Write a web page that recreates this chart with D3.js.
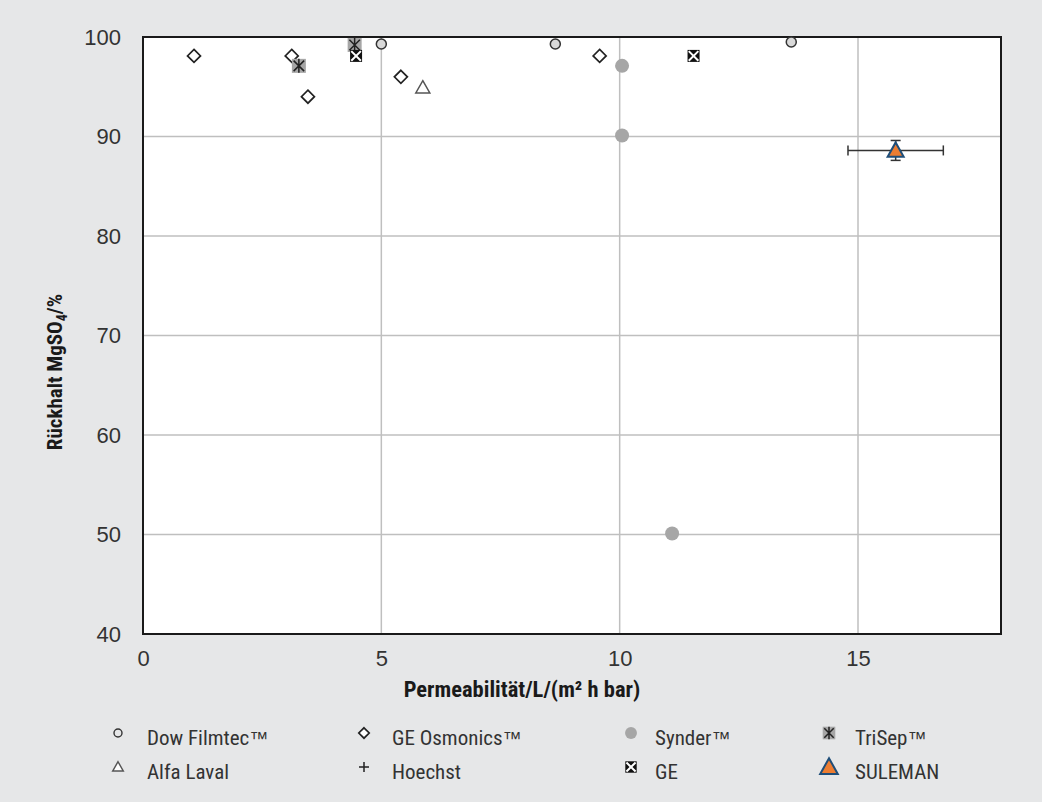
<!DOCTYPE html>
<html><head><meta charset="utf-8">
<script src="https://cdn.jsdelivr.net/npm/d3@7"></script>
<style>
body{margin:0;background:#e6e7e8;}
svg{display:block;font-family:"Liberation Sans Narrow","Roboto Condensed","Arial Narrow","Liberation Sans",sans-serif;}
</style></head><body>
<svg id="c" width="1042" height="802"></svg>
<script>
const xTicks=[0,5,10,15];
const yTicks=[40,50,60,70,80,90,100];
const dowX=[5.0,8.65,13.6], dowY=[99.3,99.3,99.5];
const osmX=[1.07,3.12,3.46,5.41,9.58], osmY=[98.1,98.1,94.0,96.0,98.1];
const alfaX=[5.87], alfaY=[94.9];
const hoechstX=[], hoechstY=[];
const synderX=[10.05,10.05,11.1], synderY=[97.1,90.1,50.1];
const trisepX=[3.27,4.44], trisepY=[97.1,99.2];
const geX=[4.47,11.55], geY=[98.1,98.1];
const sulX=[15.79], sulY=[88.6], sulXerr=[1.0], sulYerr=[1.0];
const legendNames=["Dow Filmtec™","GE Osmonics™","Synder™","TriSep™","Alfa Laval","Hoechst","GE","SULEMAN"];

const svg=d3.select("#c");
const m={l:143,r:1001,t:37,b:634};
const x=d3.scaleLinear().domain([0,18]).range([m.l,m.r]);
const y=d3.scaleLinear().domain([40,100]).range([m.b,m.t]);

svg.append("rect").attr("x",m.l).attr("y",m.t).attr("width",m.r-m.l).attr("height",m.b-m.t).attr("fill","#fff");
svg.append("g").selectAll("line").data(xTicks.filter(d=>d>0)).join("line")
 .attr("x1",d=>x(d)).attr("x2",d=>x(d)).attr("y1",m.t).attr("y2",m.b).attr("stroke","#bfbfbf").attr("stroke-width",1.5);
svg.append("g").selectAll("line").data(yTicks.filter(d=>d>40&&d<100)).join("line")
 .attr("x1",m.l).attr("x2",m.r).attr("y1",d=>y(d)).attr("y2",d=>y(d)).attr("stroke","#bfbfbf").attr("stroke-width",1.5);
svg.append("rect").attr("x",m.l).attr("y",m.t).attr("width",m.r-m.l).attr("height",m.b-m.t).attr("fill","none").attr("stroke","#1a1a1a").attr("stroke-width",2);

const xa=svg.append("g").attr("transform",`translate(0,${m.b})`).call(d3.axisBottom(x).tickValues(xTicks).tickSize(0).tickPadding(16));
xa.select(".domain").remove();
xa.selectAll("text").attr("font-size",22).attr("fill","#333").attr("font-family","inherit");
const ya=svg.append("g").attr("transform",`translate(${m.l},0)`).call(d3.axisLeft(y).tickValues(yTicks).tickSize(0).tickPadding(22));
ya.select(".domain").remove();
ya.selectAll("text").attr("font-size",22).attr("fill","#333").attr("font-family","inherit");

svg.append("text").attr("x",522).attr("y",697).attr("text-anchor","middle").attr("font-size",22.5).attr("font-weight","bold").attr("fill","#1a1a1a").text("Permeabilität/L/(m² h bar)");
const yt=svg.append("text").attr("transform","translate(62,372) rotate(-90)").attr("text-anchor","middle").attr("font-size",21).attr("font-weight","bold").attr("fill","#1a1a1a");
yt.append("tspan").text("Rückhalt MgSO");
yt.append("tspan").attr("font-size",14).attr("dy",5).text("4");
yt.append("tspan").attr("dy",-5).text("/%");

function circleOpen(g,s){g.append("circle").attr("r",5*s).attr("fill","#d9d9d9").attr("stroke","#333").attr("stroke-width",1.5);}
function circleOpenLeg(g,s){g.append("circle").attr("r",4*s).attr("fill","none").attr("stroke","#333").attr("stroke-width",1.4);}
function diamond(g,s){const r=6.5*s;g.append("path").attr("d",`M0,${-r}L${r},0L0,${r}L${-r},0Z`).attr("fill","#fff").attr("stroke","#222").attr("stroke-width",1.7);}
function triOpen(g,s){const r=7*s;g.append("path").attr("d",`M0,${-r}L${r},${r*0.75}L${-r},${r*0.75}Z`).attr("fill","#fff").attr("stroke","#555").attr("stroke-width",1.5);}
function plus(g,s){const r=5*s;g.append("path").attr("d",`M${-r},0H${r}M0,${-r}V${r}`).attr("stroke","#222").attr("stroke-width",1.5);}
function dotFilled(g,s){g.append("circle").attr("r",7*s).attr("fill","#a6a6a6");}
function trisep(g,s){const r=7*s;g.append("rect").attr("x",-r).attr("y",-r).attr("width",2*r).attr("height",2*r).attr("fill","#a6a6a6");
 const a=r*0.75;g.append("path").attr("d",`M${-a},${-a}L${a},${a}M${a},${-a}L${-a},${a}M0,${-r}V${r}`).attr("stroke","#222").attr("stroke-width",1.5);}
function geMark(g,s){const r=6*s;g.append("rect").attr("x",-r).attr("y",-r).attr("width",2*r).attr("height",2*r).attr("fill","#111");
 const a=r*0.8;g.append("path").attr("d",`M${-a},${-a}L${a},${a}M${a},${-a}L${-a},${a}`).attr("stroke","#fff").attr("stroke-width",2);}
function sulMark(g,s){const r=8*s;g.append("path").attr("d",`M0,${-r}L${r},${r*0.8}L${-r},${r*0.8}Z`).attr("fill","#ed7d31").attr("stroke","#1f4e79").attr("stroke-width",2);}

function series(xs,ys,fn,s){
 xs.forEach((v,i)=>{const g=svg.append("g").attr("transform",`translate(${x(v)},${y(ys[i])})`);fn(g,s);});
}
series(osmX,osmY,diamond,1);
series(alfaX,alfaY,triOpen,1);
series(hoechstX,hoechstY,plus,1);
series(synderX,synderY,dotFilled,1);
series(dowX,dowY,circleOpen,1);
series(trisepX,trisepY,trisep,1);
series(geX,geY,geMark,1);
sulX.forEach((v,i)=>{
 const g=svg.append("g").attr("stroke","#333").attr("stroke-width",1.5);
 const cy=y(sulY[i]),cx=x(v);
 g.append("line").attr("x1",x(v-sulXerr[i])).attr("x2",x(v+sulXerr[i])).attr("y1",cy).attr("y2",cy);
 g.append("line").attr("x1",x(v-sulXerr[i])).attr("x2",x(v-sulXerr[i])).attr("y1",cy-5).attr("y2",cy+5);
 g.append("line").attr("x1",x(v+sulXerr[i])).attr("x2",x(v+sulXerr[i])).attr("y1",cy-5).attr("y2",cy+5);
 g.append("line").attr("x1",cx).attr("x2",cx).attr("y1",y(sulY[i]+sulYerr[i])).attr("y2",y(sulY[i]-sulYerr[i]));
 g.append("line").attr("x1",cx-5).attr("x2",cx+5).attr("y1",y(sulY[i]+sulYerr[i])).attr("y2",y(sulY[i]+sulYerr[i]));
 g.append("line").attr("x1",cx-5).attr("x2",cx+5).attr("y1",y(sulY[i]-sulYerr[i])).attr("y2",y(sulY[i]-sulYerr[i]));
});
series(sulX,sulY,sulMark,1);

const legFns=[circleOpenLeg,diamond,dotFilled,trisep,triOpen,plus,geMark,sulMark];
const legScale=[1,0.8,0.85,0.9,0.75,1,0.95,1.1];
const colX=[118,364,631,829], textX=[147,392,655,855], rowY=[745,779];
legendNames.forEach((n,i)=>{
 const c=i%4,r=Math.floor(i/4);
 const g=svg.append("g").attr("transform",`translate(${colX[c]},${rowY[r]-12})`);
 legFns[i](g,legScale[i]);
 const t=svg.append("text").attr("x",textX[c]).attr("y",rowY[r]).attr("font-size",21).attr("fill","#333");
 const base=n.replace("™","");
 t.append("tspan").text(base);
 if(n.includes("™")) t.append("tspan").attr("font-family","Liberation Sans, sans-serif").attr("font-size",19).text("™");
});
</script></body></html>
